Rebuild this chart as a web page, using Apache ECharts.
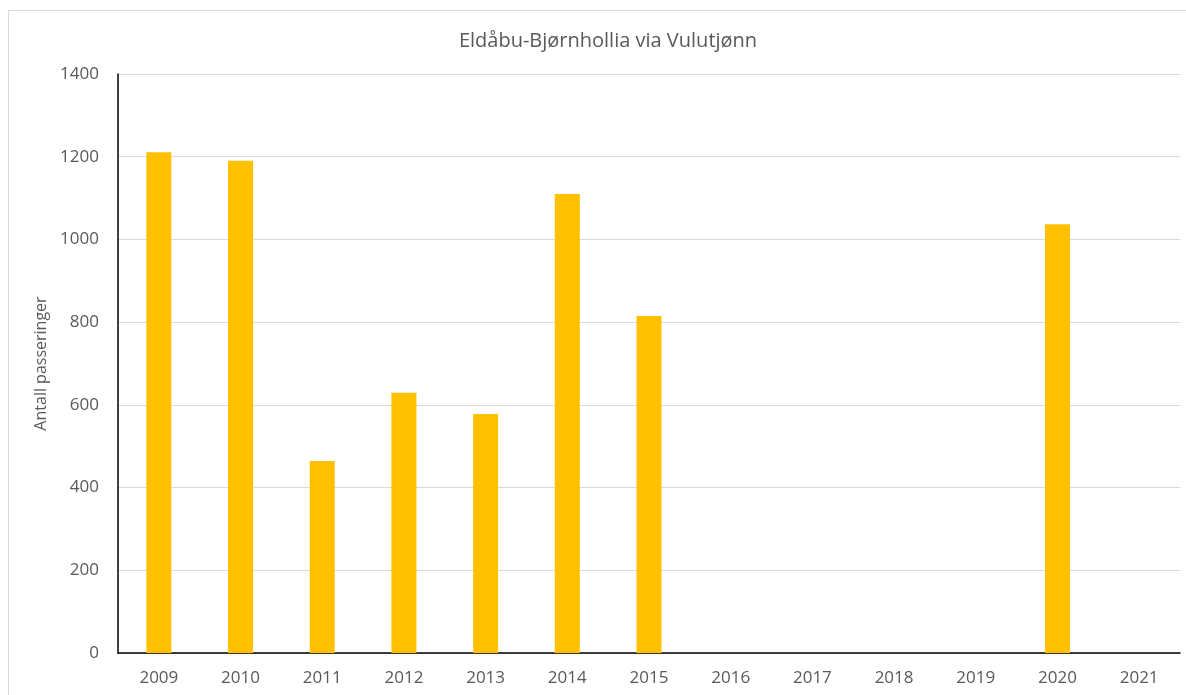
<!DOCTYPE html>
<html>
<head>
<meta charset="utf-8">
<script src="https://cdn.jsdelivr.net/npm/echarts@6/dist/echarts.min.js"></script>
<style>
    html, body { margin: 0; padding: 0; background: #fff; }
    .frame {
        position: absolute;
        left: 8px; top: 10px;
        width: 1200px; height: 700px;
        border: 1px solid #d9d9d9;
    }
    #chart { position: absolute; left: 0; top: 0; width: 1186px; height: 695px; }
</style>
</head>
<body>
<div class="frame"></div>
<div id="chart"></div>
<script>
    // år og antall passeringer
    const years = ['2009', '2010', '2011', '2012', '2013', '2014', '2015', '2016', '2017', '2018', '2019', '2020', '2021'];
    const passeringer = [1211, 1190, 464, 629, 578, 1110, 815, 0, 0, 0, 0, 1037, 0];
    const yTicks = [0, 200, 400, 600, 800, 1000, 1200, 1400];

    const chart = echarts.init(document.getElementById('chart'));
    const txt = '#595959';
    const font = 'Open Sans';

    chart.setOption({
        animation: false,
        title: {
            text: 'Eldåbu-Bjørnhollia via Vulutjønn',
            left: 603,
            top: 26,
            textAlign: 'center',
            textStyle: { fontFamily: font, fontSize: 20, fontWeight: 'normal', color: txt }
        },
        grid: { left: 118, right: 6, top: 74, bottom: 42 },
        xAxis: {
            type: 'category',
            data: years,
            axisLine: { lineStyle: { color: '#000', width: 1.5 } },
            axisTick: { show: false },
            axisLabel: { fontFamily: font, fontSize: 17, color: txt, margin: 17 }
        },
        yAxis: {
            type: 'value',
            min: yTicks[0],
            max: yTicks[yTicks.length - 1],
            interval: 200,
            name: 'Antall passeringer',
            nameLocation: 'middle',
            nameGap: 66,
            nameTextStyle: { fontFamily: font, fontSize: 16, color: txt },
            axisLine: { show: true, lineStyle: { color: '#000', width: 1.5 } },
            axisTick: { show: false },
            axisLabel: { fontFamily: font, fontSize: 17, color: txt, margin: 19, formatter: v => String(v) },
            splitLine: { lineStyle: { color: '#d9d9d9', width: 1 } }
        },
        series: [{
            type: 'bar',
            data: passeringer,
            barWidth: 25,
            itemStyle: { color: '#ffc000' }
        }]
    });
</script>
</body>
</html>
